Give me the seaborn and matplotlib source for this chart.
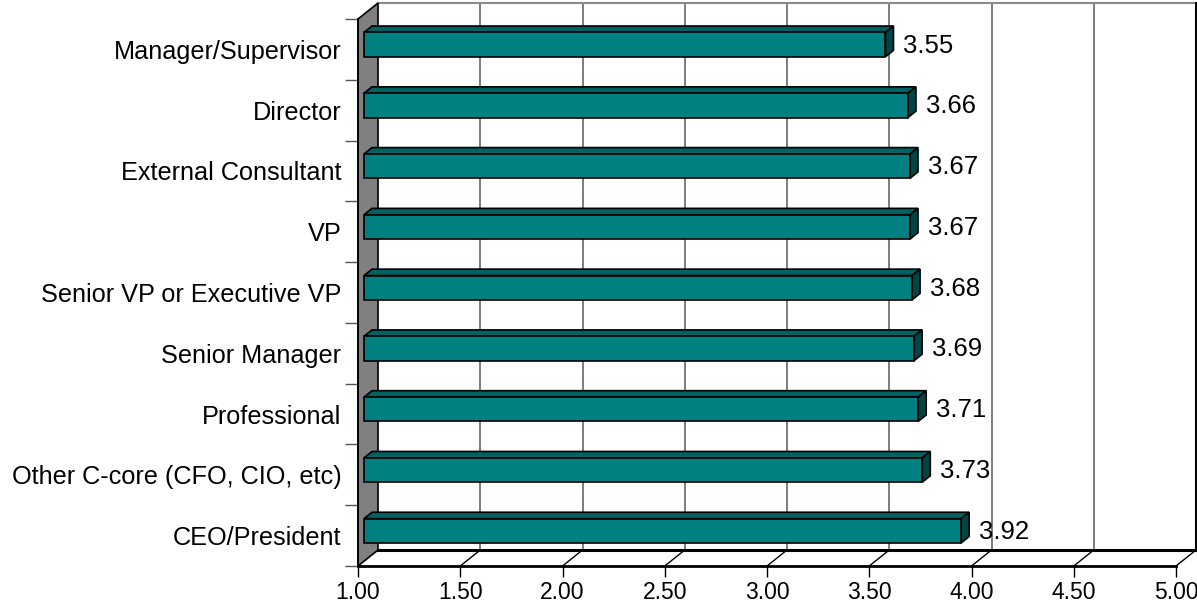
import matplotlib
matplotlib.use("Agg")
import matplotlib.pyplot as plt
from matplotlib.patches import Polygon
from matplotlib.ticker import FixedLocator
import seaborn as sns

categories = [
    "Manager/Supervisor",
    "Director",
    "External Consultant",
    "VP",
    "Senior VP or Executive VP",
    "Senior Manager",
    "Professional",
    "Other C-core (CFO, CIO, etc)",
    "CEO/President",
]
scores = [3.55, 3.66, 3.67, 3.67, 3.68, 3.69, 3.71, 3.73, 3.92]
x_ticks = [1.0, 1.5, 2.0, 2.5, 3.0, 3.5, 4.0, 4.5, 5.0]

sns.set_style("white")
plt.rcParams["font.family"] = ["Liberation Sans", "DejaVu Sans"]
plt.rcParams["text.color"] = "black"
plt.rcParams["xtick.labelcolor"] = "black"
plt.rcParams["ytick.labelcolor"] = "black"

W, H = 1197, 607
fig = plt.figure(figsize=(W / 100, H / 100), dpi=100)
ax = fig.add_axes([358 / W, 41 / H, 818 / W, 547 / H])

XMIN, XMAX = x_ticks[0], x_ticks[-1]
n = len(categories)
YTOP, YBOT = -0.5, n - 0.5

# depth of the box, expressed in data units (x to the right, y upwards)
px_per_x = 818 / (XMAX - XMIN)
px_per_y = 547 / n
DX = 20 / px_per_x
DY = 16 / px_per_y


def P(x, y, d):
    """Project a point at depth d (0 = front, 1 = back) onto the axes."""
    return (x + d * DX, y - d * DY)


def face(pts, **kw):
    poly = Polygon([P(*p) for p in pts], closed=True, clip_on=False, **kw)
    ax.add_patch(poly)
    return poly


def line(p0, p1, **kw):
    a, b = P(*p0), P(*p1)
    ax.plot([a[0], b[0]], [a[1], b[1]], clip_on=False, solid_capstyle="projecting", **kw)


TEAL = "#008080"
TEAL_TOP = "#006262"
TEAL_SIDE = "#004545"

# front faces of the bars
sns.barplot(x=scores, y=categories, orient="h", width=0.4, color=TEAL,
            saturation=1, edgecolor="black", linewidth=1.2, ax=ax)
ax.set_xlim(XMIN, XMAX)
ax.set_ylim(YBOT, YTOP)

# back wall with its gridlines
face([(XMIN, YTOP, 1), (XMAX, YTOP, 1), (XMAX, YBOT, 1), (XMIN, YBOT, 1)],
     facecolor="white", edgecolor="none", zorder=0.5)
for xv in x_ticks[1:-1]:
    line((xv, YBOT, 1), (xv, YTOP, 1), color="#5a5a5a", lw=1.1, zorder=0.6)
line((XMIN, YTOP, 1), (XMAX, YTOP, 1), color="#8a8a8a", lw=1.5, zorder=0.7)
line((XMAX, YTOP, 1), (XMAX, YBOT, 1), color="black", lw=2.2, zorder=0.7)

# floor
for xv in x_ticks[1:]:
    line((xv, YBOT, 0), (xv, YBOT, 1), color="black", lw=1.0, zorder=0.8)
line((XMIN, YBOT, 1), (XMAX, YBOT, 1), color="black", lw=2.2, zorder=0.8)

# left side wall
face([(XMIN, YTOP, 0), (XMIN, YTOP, 1), (XMIN, YBOT, 1), (XMIN, YBOT, 0)],
     facecolor="#808080", edgecolor="black", lw=1.2, zorder=1)

# bars: move the front faces to their depth, then add top and side faces
D0, D1 = 0.3, 0.7
for i, (p, v) in enumerate(zip(ax.patches, scores)):
    y0 = p.get_y()
    h = p.get_height()
    p.set_x(XMIN + D0 * DX)
    p.set_width(v - XMIN)
    p.set_y(y0 - D0 * DY)
    p.set_clip_on(False)
    p.set_zorder(4)
    face([(XMIN, y0, D0), (v, y0, D0), (v, y0, D1), (XMIN, y0, D1)],
         facecolor=TEAL_TOP, edgecolor="black", lw=1.2, zorder=3)
    face([(v, y0, D0), (v, y0 + h, D0), (v, y0 + h, D1), (v, y0, D1)],
         facecolor=TEAL_SIDE, edgecolor="black", lw=1.2, zorder=3)
    ax.annotate(f"{v:.2f}", xy=P(v, i, 0.5), xytext=(10, -3),
                textcoords="offset points", ha="left", va="center",
                fontsize=18.5, color="black", zorder=6, annotation_clip=False)

# axes styling
for side in ("top", "right"):
    ax.spines[side].set_visible(False)
ax.spines["left"].set_color("black")
ax.spines["left"].set_linewidth(1.2)
ax.spines["bottom"].set_color("black")
ax.spines["bottom"].set_linewidth(2.0)
ax.spines["bottom"].set_zorder(2)

ax.set_xticks(x_ticks)
ax.set_xticklabels([f"{t:.2f}" for t in x_ticks], fontsize=16.5)
ax.tick_params(axis="x", which="major", direction="out", length=8, width=1,
               color="black", pad=3, bottom=True)

ax.set_yticks(range(n))
ax.set_yticklabels(categories, fontsize=18.2)
ax.yaxis.set_minor_locator(FixedLocator([k - 0.5 for k in range(n + 1)]))
ax.tick_params(axis="y", which="major", length=0, pad=12)
ax.tick_params(axis="y", which="minor", direction="out", length=9.5,
               width=1, color="#555555", left=True)
ax.set_xlabel("")
ax.set_ylabel("")
ax.grid(False)
ax.set_facecolor("none")

fig.savefig("out.png", dpi=100, facecolor="white")
